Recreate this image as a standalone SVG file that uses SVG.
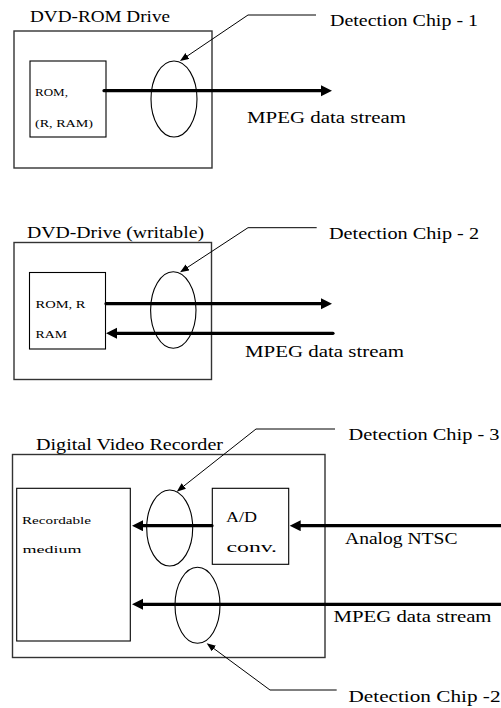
<svg xmlns="http://www.w3.org/2000/svg" width="501" height="708" viewBox="0 0 501 708">
<style>
text{font-family:"Liberation Serif","DejaVu Serif",serif;fill:#000}
.lbl{font-size:16px}
.sm{font-size:10.5px}
.md{font-size:15px}
.outer{fill:none;stroke:#333;stroke-width:1.4}
.inner{fill:#fff;stroke:#000;stroke-width:1.1}
.chip{fill:none;stroke:#000;stroke-width:1.1}
.thick{fill:none;stroke:#000;stroke-width:3.2;stroke-linecap:round;marker-end:url(#bigArrow)}
.lead{fill:none;stroke:#000;stroke-width:1;marker-end:url(#smallArrow)}
</style>
<defs>
<marker id="bigArrow" markerUnits="userSpaceOnUse" markerWidth="12" markerHeight="12" refX="1" refY="5.5" orient="auto">
<path d="M0,0 L11,5.5 L0,11 z" fill="#000"/>
</marker>
<marker id="smallArrow" markerUnits="userSpaceOnUse" markerWidth="10" markerHeight="8" refX="1" refY="3.5" orient="auto">
<path d="M0,0 L9,3.5 L0,7 z" fill="#000"/>
</marker>
</defs>
<rect width="501" height="708" fill="#fff"/>

<g font-family="Liberation Serif, DejaVu Serif, serif">
<!-- Section 1 -->
<g id="dvd-rom-drive">
<rect class="outer" x="14" y="31" width="198" height="137"/>
<text class="lbl" x="30" y="22" textLength="140" lengthAdjust="spacingAndGlyphs">DVD-ROM Drive</text>
</g>
<g id="rom-media-1">
<rect class="inner" x="30" y="61" width="76" height="76"/>
<text class="sm" x="35" y="96" textLength="33" lengthAdjust="spacingAndGlyphs">ROM,</text>
<text class="sm" x="35" y="127" textLength="58" lengthAdjust="spacingAndGlyphs">(R, RAM)</text>
</g>
<g id="chip-1">
<ellipse class="chip" cx="174" cy="99" rx="23" ry="38"/>
</g>
<g id="label-chip-1"><text class="lbl" x="330" y="26" textLength="148" lengthAdjust="spacingAndGlyphs">Detection Chip - 1</text></g>
<g id="label-mpeg-1"><text class="lbl" x="247" y="123" textLength="159" lengthAdjust="spacingAndGlyphs">MPEG data stream</text></g>

<!-- Section 2 -->
<g id="dvd-drive-writable">
<rect class="outer" x="14" y="242.5" width="197.5" height="137"/>
<text class="lbl" x="27" y="238" textLength="177" lengthAdjust="spacingAndGlyphs">DVD-Drive (writable)</text>
</g>
<g id="rom-media-2">
<rect class="inner" x="29.5" y="272.5" width="76" height="76.5"/>
<text class="sm" x="35.5" y="308" textLength="50" lengthAdjust="spacingAndGlyphs">ROM, R</text>
<text class="sm" x="35.5" y="338" textLength="31.5" lengthAdjust="spacingAndGlyphs">RAM</text>
</g>
<g id="chip-2">
<ellipse class="chip" cx="173.3" cy="310" rx="22.7" ry="38.3"/>
</g>
<g id="label-chip-2"><text class="lbl" x="329" y="239" textLength="150" lengthAdjust="spacingAndGlyphs">Detection Chip - 2</text></g>
<g id="label-mpeg-2"><text class="lbl" x="245" y="357" textLength="159" lengthAdjust="spacingAndGlyphs">MPEG data stream</text></g>

<!-- Section 3 -->
<g id="digital-video-recorder">
<rect class="outer" x="12.5" y="454.5" width="312.5" height="203"/>
<text class="lbl" x="36" y="450" textLength="187" lengthAdjust="spacingAndGlyphs">Digital Video Recorder</text>
</g>
<g id="recordable-medium">
<rect class="inner" x="16.7" y="488.3" width="113.6" height="152.7"/>
<text class="sm" x="22" y="524" textLength="69" lengthAdjust="spacingAndGlyphs">Recordable</text>
<text class="sm" x="22.5" y="553" textLength="59" lengthAdjust="spacingAndGlyphs">medium</text>
</g>
<g id="ad-conv">
<rect class="inner" x="212.3" y="488.3" width="76.4" height="76"/>
<text class="md" x="226" y="522" textLength="31" lengthAdjust="spacingAndGlyphs">A/D</text>
<text class="md" x="226.5" y="552" textLength="50.5" lengthAdjust="spacingAndGlyphs">conv.</text>
</g>
<g id="chip-3">
<ellipse class="chip" cx="169.7" cy="528" rx="23" ry="38"/>
</g>
<g id="chip-2b">
<ellipse class="chip" cx="197.5" cy="605.3" rx="22.5" ry="38"/>
</g>
<g id="label-chip-3"><text class="lbl" x="348.5" y="440" textLength="151" lengthAdjust="spacingAndGlyphs">Detection Chip - 3</text></g>
<g id="label-analog"><text class="lbl" x="345" y="543.5" textLength="112.5" lengthAdjust="spacingAndGlyphs">Analog NTSC</text></g>
<g id="label-mpeg-3"><text class="lbl" x="333.5" y="622" textLength="158" lengthAdjust="spacingAndGlyphs">MPEG data stream</text></g>
<g id="label-chip-2b"><text class="lbl" x="348.5" y="702" textLength="152" lengthAdjust="spacingAndGlyphs">Detection Chip -2</text></g>
</g>

<g id="connectors">
<line class="thick" x1="104" y1="90.7" x2="322" y2="90.7"/>
<line class="thick" x1="106" y1="303.7" x2="322" y2="303.7"/>
<line class="thick" x1="333" y1="333.3" x2="116" y2="333.3"/>
<line class="thick" x1="212" y1="525.7" x2="142" y2="525.7"/>
<line class="thick" x1="505" y1="525.7" x2="299.7" y2="525.7"/>
<line class="thick" x1="505" y1="604.3" x2="142" y2="604.3"/>
<polyline class="lead" points="316,15 248,15 186.6,56.5"/>
<polyline class="lead" points="316.7,227.7 248,227.7 186.7,267.9"/>
<polyline class="lead" points="335,429 256,429 183,486.7"/>
<polyline class="lead" points="336.7,690 270,690 213.1,648"/>
</g>
</svg>
